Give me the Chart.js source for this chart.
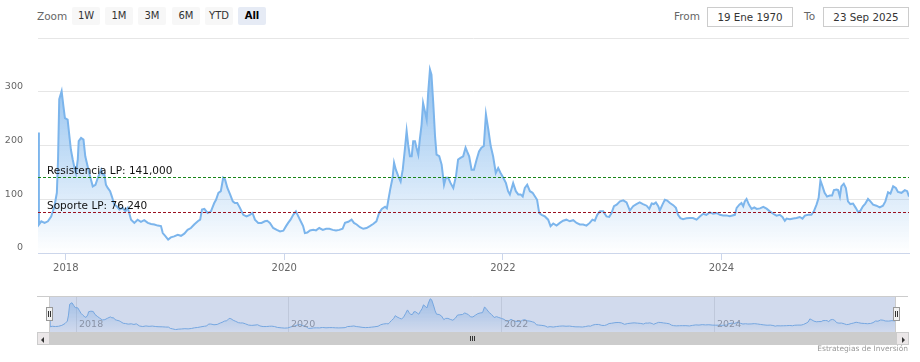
<!DOCTYPE html>
<html>
<head>
<meta charset="utf-8">
<script src="https://cdn.jsdelivr.net/npm/chart.js@4.4.1/dist/chart.umd.min.js"></script>
<style>
  body { margin: 0; background: #fff; font-family: 'DejaVu Sans', Verdana, sans-serif; }
  #wrap { position: relative; width: 920px; height: 362px; overflow: hidden; }
  .lbl { position: absolute; top: 7px; height: 18px; line-height: 18px; color: #666; font-size: 10.5px; }
  .btn { position: absolute; top: 7px; width: 28px; height: 18px; line-height: 18px; text-align: center;
         background: #f7f7f7; color: #333; font-size: 10px; border-radius: 2px; }
  .btn.on { background: #e6ebf5; color: #000; font-weight: bold; }
  .box { position: absolute; top: 7px; width: 84px; height: 18px; line-height: 18px; border: 1px solid #ccc;
         text-align: center; color: #333; font-size: 10.3px; }
  canvas { position: absolute; left: 0; }
  .sb { position: absolute; top: 332px; height: 13px; }
  .arrow { position: absolute; top: 3.5px; width: 0; height: 0; border-top: 3px solid transparent; border-bottom: 3px solid transparent; }
  .handle { position: absolute; top: 307px; width: 5px; height: 12px; background: #f2f2f2; border: 1px solid #999; }
  .handle i { position: absolute; top: 3px; width: 1px; height: 6px; background: #333; }
  .grip { position: absolute; top: 4px; width: 1px; height: 5px; background: #333; }
  #credit { position: absolute; right: 12px; top: 344px; font-size: 7.5px; color: #999; }
</style>
</head>
<body>
<div id="wrap">
  <div class="lbl" style="left:37px">Zoom</div>
  <div class="btn" style="left:72px">1W</div>
  <div class="btn" style="left:105px">1M</div>
  <div class="btn" style="left:138px">3M</div>
  <div class="btn" style="left:172px">6M</div>
  <div class="btn" style="left:205px">YTD</div>
  <div class="btn on" style="left:238px">All</div>
  <div class="lbl" style="left:674px">From</div>
  <div class="box" style="left:707px" id="fromBox"></div>
  <div class="lbl" style="left:804px">To</div>
  <div class="box" style="left:823px" id="toBox"></div>

  <canvas id="main" width="920" height="280" style="top:0"></canvas>
  <canvas id="nav" width="920" height="42" style="top:290px"></canvas>

  <div class="sb" style="left:37px; width:871px; background:#f2f2f2"></div>
  <div class="sb" style="left:49px; width:847px; background:#cccccc">
    <div class="grip" style="left:421px"></div>
    <div class="grip" style="left:423px"></div>
    <div class="grip" style="left:425px"></div>
  </div>
  <div class="sb" style="left:37px; width:11px; background:#ebe7e8; border:1px solid #ccc; height:11px">
    <div class="arrow" style="left:3px; border-right:3px solid #333"></div>
  </div>
  <div class="sb" style="left:896px; width:11px; background:#ebe7e8; border:1px solid #ccc; height:11px">
    <div class="arrow" style="left:5px; border-left:3px solid #333"></div>
  </div>
  <div class="handle" style="left:46px"><i style="left:1px"></i><i style="left:3px"></i></div>
  <div class="handle" style="left:893px"><i style="left:1px"></i><i style="left:3px"></i></div>

  <div id="credit">Estrategias de Inversión</div>
</div>

<script>
// Data
const dates = [
  '2017-09-30','2017-10-03','2017-10-11','2017-10-22','2017-11-02','2017-11-13','2017-11-24','2017-12-02','2017-12-06','2017-12-10',
  '2017-12-18','2017-12-24','2017-12-29','2018-01-07','2018-01-13','2018-01-18','2018-01-24','2018-01-29','2018-02-04','2018-02-10',
  '2018-02-13','2018-02-21','2018-03-01','2018-03-07','2018-03-15','2018-03-23','2018-04-01','2018-04-10','2018-04-18','2018-04-29',
  '2018-05-04','2018-05-10','2018-05-15','2018-05-21','2018-05-29','2018-06-04','2018-06-12','2018-06-20','2018-06-29','2018-07-10',
  '2018-07-19','2018-07-27','2018-08-07','2018-08-18','2018-08-29','2018-09-09','2018-09-20','2018-10-02','2018-10-13','2018-10-24',
  '2018-11-04','2018-11-15','2018-11-21','2018-11-29','2018-12-09','2018-12-18','2018-12-29','2019-01-10','2019-01-21','2019-02-01',
  '2019-02-12','2019-02-23','2019-03-06','2019-03-18','2019-03-26','2019-04-01','2019-04-09','2019-04-20','2019-05-01','2019-05-12',
  '2019-05-18','2019-05-26','2019-06-03','2019-06-11','2019-06-17','2019-06-25','2019-07-04','2019-07-13','2019-07-20','2019-07-28',
  '2019-08-06','2019-08-17','2019-08-28','2019-09-08','2019-09-17','2019-09-25','2019-10-06','2019-10-17','2019-10-28','2019-11-05',
  '2019-11-14','2019-11-25','2019-12-07','2019-12-18','2019-12-29','2020-01-07','2020-01-14','2020-01-22','2020-01-31','2020-02-09',
  '2020-02-17','2020-02-25','2020-03-04','2020-03-10','2020-03-18','2020-03-27','2020-04-07','2020-04-16','2020-04-27','2020-05-09',
  '2020-05-20','2020-05-31','2020-06-11','2020-06-22','2020-07-03','2020-07-14','2020-07-22','2020-08-02','2020-08-13','2020-08-21',
  '2020-08-30','2020-09-10','2020-09-21','2020-10-02','2020-10-13','2020-10-24','2020-11-04','2020-11-13','2020-11-22','2020-12-03',
  '2020-12-09','2020-12-14','2020-12-20','2020-12-28','2021-01-02','2021-01-08','2021-01-16','2021-01-24','2021-01-31','2021-02-07',
  '2021-02-13','2021-02-18','2021-02-24','2021-03-02','2021-03-07','2021-03-13','2021-03-18','2021-03-24','2021-03-29','2021-04-04',
  '2021-04-09','2021-04-15','2021-04-21','2021-04-26','2021-05-02','2021-05-07','2021-05-13','2021-05-19','2021-05-24','2021-06-02',
  '2021-06-10','2021-06-18','2021-06-24','2021-07-02','2021-07-10','2021-07-19','2021-07-28','2021-08-04','2021-08-12','2021-08-21',
  '2021-08-29','2021-09-03','2021-09-10','2021-09-18','2021-09-26','2021-10-05','2021-10-13','2021-10-21','2021-10-29','2021-11-05',
  '2021-11-13','2021-11-21','2021-11-29','2021-12-08','2021-12-16','2021-12-24','2022-01-02','2022-01-11','2022-01-18','2022-01-24',
  '2022-02-04','2022-02-13','2022-02-21','2022-03-01','2022-03-08','2022-03-15','2022-03-23','2022-04-01','2022-04-10','2022-04-18',
  '2022-04-25','2022-05-02','2022-05-10','2022-05-21','2022-06-01','2022-06-09','2022-06-18','2022-06-29','2022-07-10','2022-07-21',
  '2022-08-01','2022-08-12','2022-08-24','2022-09-04','2022-09-15','2022-09-26','2022-10-07','2022-10-18','2022-10-27','2022-11-04',
  '2022-11-12','2022-11-21','2022-12-02','2022-12-13','2022-12-22','2022-12-30','2023-01-07','2023-01-16','2023-01-27','2023-02-07',
  '2023-02-18','2023-03-01','2023-03-12','2023-03-23','2023-04-03','2023-04-14','2023-04-26','2023-05-05','2023-05-13','2023-05-20',
  '2023-05-27','2023-06-04','2023-06-09','2023-06-18','2023-06-26','2023-07-04','2023-07-13','2023-07-24','2023-08-02','2023-08-09',
  '2023-08-17','2023-08-26','2023-09-06','2023-09-17','2023-09-28','2023-10-10','2023-10-21','2023-11-01','2023-11-12','2023-11-23',
  '2023-12-04','2023-12-16','2023-12-27','2024-01-07','2024-01-18','2024-01-29','2024-02-15','2024-02-21','2024-03-01','2024-03-08',
  '2024-03-14','2024-03-19','2024-03-25','2024-04-02','2024-04-11','2024-04-20','2024-04-28','2024-05-09','2024-05-20','2024-05-31',
  '2024-06-11','2024-06-22','2024-07-03','2024-07-14','2024-07-23','2024-07-31','2024-08-06','2024-08-17','2024-08-28','2024-09-08',
  '2024-09-19','2024-09-28','2024-10-06','2024-10-17','2024-10-28','2024-11-05','2024-11-14','2024-11-21','2024-11-27','2024-12-04',
  '2024-12-11','2024-12-19','2024-12-28','2025-01-05','2025-01-11','2025-01-20','2025-01-25','2025-01-31','2025-02-05','2025-02-13',
  '2025-02-20','2025-02-27','2025-03-07','2025-03-16','2025-03-25','2025-04-02','2025-04-10','2025-04-18','2025-04-26','2025-05-05',
  '2025-05-13','2025-05-22','2025-06-02','2025-06-13','2025-06-24','2025-07-02','2025-07-11','2025-07-19','2025-07-28','2025-08-06',
  '2025-08-13','2025-08-25','2025-09-05','2025-09-13','2025-09-19'
];
const values = [
  224, 53, 59, 56, 59, 68, 87, 112, 174, 286,
  301, 273, 251, 248, 217, 192, 174, 161, 149, 174,
  208, 214, 211, 180, 161, 143, 124, 127, 140, 155,
  146, 146, 127, 121, 115, 105, 90, 87, 81, 84,
  77.5, 84, 62, 56, 62, 58, 61, 56, 54, 53,
  51, 50, 37, 32, 25, 29, 31, 34, 32, 36,
  43, 46.5, 53, 59, 62, 81, 82, 74.5, 77.5, 93,
  99, 112, 115, 140, 137, 121, 109, 96, 93, 93,
  84, 71, 68, 71, 74.5, 62, 56, 56, 59, 60,
  56, 46.5, 43, 40, 41.5, 50, 56, 62, 71, 77.5,
  68, 59, 50, 37, 38, 42, 43, 42, 46.5, 43,
  45, 45, 43, 42, 43, 45, 56, 58, 62, 56,
  53, 48, 45, 46.5, 50, 54, 59, 74.5, 82, 86,
  83, 99, 118, 140, 168, 155, 143, 133, 155, 192.5,
  227, 202, 180, 180, 208, 208, 196, 183, 211, 239,
  279, 264, 248, 298, 341.5, 332, 279, 217, 183, 180,
  164.5, 127, 140, 140, 130, 121, 143, 174, 177, 180,
  196, 189, 180, 155, 155, 174, 189, 196, 199, 258,
  230, 199, 180, 149, 158, 149, 140, 130, 115, 109,
  130, 115, 109, 109, 105, 121, 127, 115, 112, 105,
  99, 74.5, 71, 68, 62, 50, 55, 51, 56, 60,
  62, 59, 61, 56, 53, 53, 51, 56, 62, 60,
  71, 77.5, 77.5, 68, 67, 74.5, 87, 90, 96, 98,
  94, 79, 87, 91, 94, 91, 88, 82, 92, 91,
  94, 87, 79, 90, 99, 97.5, 93, 89, 84, 71,
  65, 63, 64.5, 65, 65, 62, 68, 73, 71, 75.5,
  73, 74.5, 71, 70, 70, 68.5, 71, 84, 90, 93,
  87, 96, 100.5, 90, 82, 85, 82, 83, 86, 82.5,
  77.5, 73, 69.5, 71, 67, 60, 64, 63, 64, 65,
  67, 64, 69.5, 71, 71, 77.5, 90, 102.5, 135, 124,
  112, 105, 107, 107, 117, 118, 117, 105, 124, 129,
  121, 96, 91, 92, 84, 76, 79, 87, 92, 100.5,
  96, 90, 88, 85, 88, 96, 113, 110.5, 124, 121,
  113.5, 112, 117, 115, 105
];
const tickYears = [2018, 2020, 2022, 2024];
const yLabels = [0, 100, 200, 300];
const resistencia = 141;
const soporte = 76.24;
const resistenciaLabel = 'Resistencia LP: 141,000';
const soporteLabel = 'Soporte LP: 76,240';
const fromDate = '19 Ene 1970';
const toDate = '23 Sep 2025';

document.getElementById('fromBox').textContent = fromDate;
document.getElementById('toBox').textContent = toDate;

const points = dates.map((d, i) => ({ x: Date.parse(d), y: values[i] }));
const xMin = points[0].x;
const xMax = points[points.length - 1].x;

const niveles = [
  { value: resistencia, label: resistenciaLabel, color: '#1a861a' },
  { value: soporte, label: soporteLabel, color: '#9b1020' }
];

function areaFill(alphaTop) {
  return context => {
    const area = context.chart.chartArea;
    if (!area) return 'rgba(124,181,236,0.3)';
    const g = context.chart.ctx.createLinearGradient(0, area.top, 0, area.bottom);
    g.addColorStop(0, 'rgba(124,181,236,' + alphaTop + ')');
    g.addColorStop(1, 'rgba(124,181,236,0)');
    return g;
  };
}

function yearTicks(scale) {
  scale.ticks = tickYears.map(y => ({ value: Date.UTC(y, 0, 1) }));
}

// dashed support / resistance lines with their labels
const plotLinesPlugin = {
  id: 'plotLines',
  afterDatasetsDraw(chart) {
    const { ctx, chartArea, scales } = chart;
    ctx.save();
    niveles.forEach(n => {
      const y = Math.round(scales.y.getPixelForValue(n.value)) + 0.5;
      ctx.strokeStyle = n.color;
      ctx.lineWidth = 1;
      ctx.setLineDash([3, 2]);
      ctx.beginPath();
      ctx.moveTo(chartArea.left, y);
      ctx.lineTo(chartArea.right, y);
      ctx.stroke();
      ctx.setLineDash([]);
      ctx.fillStyle = '#111';
      ctx.font = '10.5px "DejaVu Sans"';
      ctx.textBaseline = 'alphabetic';
      ctx.fillText(n.label, chartArea.left + 9, y - 3.5);
    });
    ctx.restore();
  }
};

// navigator grid, labels, mask and outline
const navigatorPlugin = {
  id: 'navigator',
  beforeDatasetsDraw(chart) {
    const { ctx, chartArea: a, scales } = chart;
    ctx.save();
    ctx.strokeStyle = '#e6e6e6';
    ctx.lineWidth = 1;
    tickYears.forEach(y => {
      const x = Math.round(scales.x.getPixelForValue(Date.UTC(y, 0, 1))) + 0.5;
      ctx.beginPath();
      ctx.moveTo(x, a.top);
      ctx.lineTo(x, a.bottom);
      ctx.stroke();
    });
    ctx.restore();
  },
  afterDatasetsDraw(chart) {
    const { ctx, chartArea: a, scales } = chart;
    ctx.save();
    ctx.fillStyle = '#999';
    ctx.font = '9.5px "DejaVu Sans"';
    ctx.textBaseline = 'middle';
    tickYears.forEach(y => {
      const x = Math.round(scales.x.getPixelForValue(Date.UTC(y, 0, 1)));
      ctx.fillText(String(y), x + 3, a.top + 28.5);
    });
    ctx.fillStyle = 'rgba(102,133,194,0.3)';
    ctx.fillRect(a.left, a.top, a.right - a.left, a.bottom - a.top);
    ctx.strokeStyle = '#cccccc';
    ctx.beginPath();
    ctx.moveTo(37, a.top + 0.5);
    ctx.lineTo(908, a.top + 0.5);
    ctx.moveTo(a.left + 0.5, a.top);
    ctx.lineTo(a.left + 0.5, a.bottom);
    ctx.moveTo(a.right - 0.5, a.top);
    ctx.lineTo(a.right - 0.5, a.bottom);
    ctx.stroke();
    ctx.restore();
  }
};

new Chart(document.getElementById('main'), {
  type: 'line',
  data: {
    datasets: [{
      data: points,
      borderColor: '#7cb5ec',
      borderWidth: 2,
      backgroundColor: areaFill(1),
      fill: 'origin',
      pointRadius: 0,
      tension: 0
    }]
  },
  options: {
    responsive: false,
    animation: false,
    devicePixelRatio: 1,
    layout: { padding: { top: 38, right: 11, left: 0, bottom: 0 } },
    plugins: { legend: { display: false }, tooltip: { enabled: false } },
    scales: {
      x: {
        type: 'linear',
        min: xMin,
        max: xMax,
        afterBuildTicks: yearTicks,
        afterFit: s => { s.height = 27; },
        grid: { drawOnChartArea: false, drawTicks: true, tickLength: 7, color: '#ccd6eb' },
        border: { color: '#ccd6eb' },
        ticks: {
          autoSkip: false, maxRotation: 0, padding: 2, color: '#666',
          font: { family: 'DejaVu Sans', size: 10 },
          callback: v => new Date(v).getUTCFullYear()
        }
      },
      y: {
        min: 0,
        max: 400,
        afterFit: s => { s.width = 38; },
        grid: { color: '#e6e6e6', drawTicks: false },
        border: { display: false },
        ticks: {
          stepSize: 100, padding: 15, labelOffset: -5, color: '#666',
          font: { family: 'DejaVu Sans', size: 9.5 },
          callback: v => yLabels.includes(v) ? v : ''
        }
      }
    }
  },
  plugins: [plotLinesPlugin]
});

new Chart(document.getElementById('nav'), {
  type: 'line',
  data: {
    datasets: [{
      data: points,
      borderColor: '#7cb5ec',
      borderWidth: 1,
      backgroundColor: areaFill(0.6),
      fill: 'origin',
      pointRadius: 0,
      tension: 0
    }]
  },
  options: {
    responsive: false,
    animation: false,
    devicePixelRatio: 1,
    layout: { padding: { top: 6, right: 24, left: 49, bottom: 0 } },
    plugins: { legend: { display: false }, tooltip: { enabled: false } },
    scales: {
      x: { type: 'linear', display: false, min: xMin, max: xMax },
      y: { display: false, min: 0, max: 370 }
    }
  },
  plugins: [navigatorPlugin]
});
</script>
</body>
</html>
